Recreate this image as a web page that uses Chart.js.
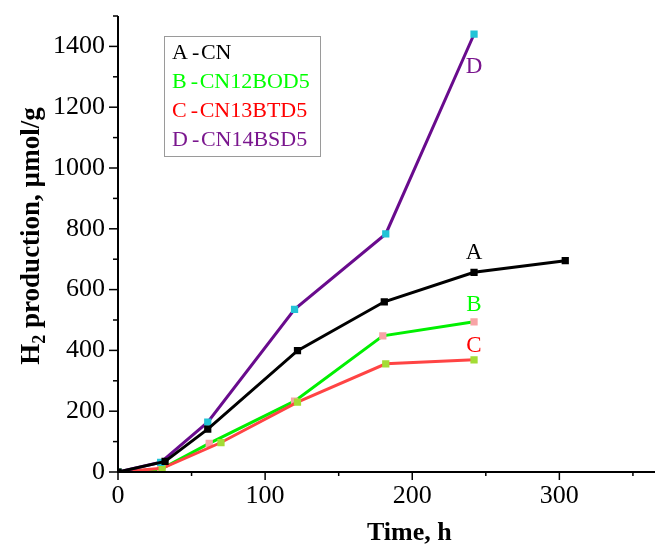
<!DOCTYPE html>
<html>
<head>
<meta charset="utf-8">
<script src="https://cdn.jsdelivr.net/npm/chart.js@4"></script>
<style>
  html, body { margin: 0; padding: 0; background: #ffffff; }
  #wrap { width: 662px; height: 547px; position: relative; }
</style>
</head>
<body>
<div id="wrap"><canvas id="h2-chart" width="662" height="547"></canvas></div>
<script>
// Data (time in h, H2 in umol/g)
const timeA = [0, 32, 61, 122, 181, 242, 304];
const prodA = [0, 35, 141, 399, 560, 657, 695];
const timeB = [0, 29, 62, 120, 180, 242];
const prodB = [0, 9, 94, 233, 448, 494];
const timeC = [0, 30, 70, 122, 182, 242];
const prodC = [0, 12, 97, 230, 356, 369];
const timeD = [0, 29, 61, 120, 182, 242];
const prodD = [0, 32, 164, 535, 783, 1440];

const seriesNames = ['A - CN', 'B - CN12BOD5', 'C - CN13BTD5', 'D - CN14BSD5'];
const letters = ['A', 'B', 'C', 'D'];
const xTickLabels = [0, 100, 200, 300];
const yTickLabels = [0, 200, 400, 600, 800, 1000, 1200, 1400];

const serif = '"Liberation Serif", "Times New Roman", serif';

function toPoints(xs, ys) {
  return xs.map((x, i) => ({ x: x, y: ys[i] }));
}

// Custom drawing: Origin style ticks, axis titles, legend box and curve letters
const originStyle = {
  id: 'originStyle',
  afterDraw(chart) {
    const ctx = chart.ctx;
    const xs = chart.scales.x;
    const ys = chart.scales.y;
    const area = chart.chartArea;
    ctx.save();

    // axis lines
    ctx.strokeStyle = '#000';
    ctx.lineWidth = 2;
    ctx.beginPath();
    ctx.moveTo(area.left, area.top);
    ctx.lineTo(area.left, area.bottom);
    ctx.lineTo(area.right, area.bottom);
    ctx.stroke();

    // ticks
    ctx.lineWidth = 1.5;
    for (let v = 0; v <= 350; v += 50) {
      const px = xs.getPixelForValue(v);
      const len = v % 100 === 0 ? 8 : 4;
      ctx.beginPath();
      ctx.moveTo(px, area.bottom);
      ctx.lineTo(px, area.bottom + len);
      ctx.stroke();
    }
    for (let v = 0; v <= 1500; v += 100) {
      const py = ys.getPixelForValue(v);
      const len = v % 200 === 0 ? 9 : 5;
      ctx.beginPath();
      ctx.moveTo(area.left, py);
      ctx.lineTo(area.left - len, py);
      ctx.stroke();
    }

    // tick labels
    ctx.fillStyle = '#000';
    ctx.font = '26px ' + serif;
    ctx.textAlign = 'center';
    ctx.textBaseline = 'top';
    xTickLabels.forEach(v => {
      ctx.fillText(String(v), xs.getPixelForValue(v), area.bottom + 11);
    });
    ctx.textAlign = 'right';
    ctx.textBaseline = 'middle';
    yTickLabels.forEach(v => {
      ctx.fillText(String(v), area.left - 13, ys.getPixelForValue(v));
    });

    // x title
    ctx.font = 'bold 26px ' + serif;
    ctx.textAlign = 'center';
    ctx.textBaseline = 'middle';
    ctx.fillText('Time, h', xs.getPixelForValue(198), 533);

    // y title with subscript
    ctx.save();
    ctx.translate(30, 236);
    ctx.rotate(-Math.PI / 2);
    const big = 'bold 27px ' + serif;
    const small = 'bold 18px ' + serif;
    const p1 = 'H';
    const p2 = '2';
    const p3 = ' production, \u00b5mol/g';
    ctx.font = big;
    const w1 = ctx.measureText(p1).width;
    const w3 = ctx.measureText(p3).width;
    ctx.font = small;
    const w2 = ctx.measureText(p2).width;
    let start = -(w1 + w2 + w3) / 2;
    ctx.textAlign = 'left';
    ctx.textBaseline = 'alphabetic';
    ctx.font = big;
    ctx.fillText(p1, start, 9);
    ctx.font = small;
    ctx.fillText(p2, start + w1, 15);
    ctx.font = big;
    ctx.fillText(p3, start + w1 + w2, 9);
    ctx.restore();

    // legend box
    ctx.strokeStyle = '#9a9a9a';
    ctx.lineWidth = 1;
    ctx.strokeRect(164.5, 36.5, 156, 120);
    ctx.font = '22px ' + serif;
    ctx.textAlign = 'left';
    ctx.textBaseline = 'middle';
    const legendColors = ['#000000', '#00ff00', '#ff0000', '#7a168e'];
    seriesNames.forEach((name, i) => {
      const parts = name.split(' - ');
      const yy = 53 + i * 29;
      ctx.fillStyle = legendColors[i];
      ctx.fillText(parts[0], 172, yy);
      const wl = ctx.measureText(parts[0]).width;
      ctx.fillText('-', 172 + wl + 4, yy);
      ctx.fillText(parts[1], 172 + wl + 13, yy);
    });

    // curve letters next to the last-but-one points
    const anchors = [
      { x: timeA[5], y: prodA[5], dy: -19, c: '#000000' },
      { x: timeB[5], y: prodB[5], dy: -17, c: '#00ff00' },
      { x: timeC[5], y: prodC[5], dy: -14, c: '#ff0000' },
      { x: timeD[5], y: prodD[5], dy: 33, c: '#7a168e' }
    ];
    ctx.font = '23px ' + serif;
    ctx.textAlign = 'center';
    anchors.forEach((a, i) => {
      ctx.fillStyle = a.c;
      ctx.fillText(letters[i], xs.getPixelForValue(a.x), ys.getPixelForValue(a.y) + a.dy);
    });

    ctx.restore();
  }
};

const ctx = document.getElementById('h2-chart').getContext('2d');
new Chart(ctx, {
  type: 'line',
  data: {
    datasets: [
      {
        label: seriesNames[0],
        data: toPoints(timeA, prodA),
        borderColor: '#000000',
        backgroundColor: '#000000',
        pointBorderColor: '#000000',
        borderWidth: 3
      },
      {
        label: seriesNames[3],
        data: toPoints(timeD, prodD),
        borderColor: '#690b8d',
        backgroundColor: '#22c3d6',
        pointBorderColor: '#22c3d6',
        borderWidth: 3
      },
      {
        label: seriesNames[2],
        data: toPoints(timeC, prodC),
        borderColor: '#ff4444',
        backgroundColor: '#a3dc35',
        pointBorderColor: '#a3dc35',
        borderWidth: 3
      },
      {
        label: seriesNames[1],
        data: toPoints(timeB, prodB),
        borderColor: '#00f000',
        backgroundColor: '#f8a3a6',
        pointBorderColor: '#f8a3a6',
        borderWidth: 3
      }
    ]
  },
  options: {
    responsive: false,
    animation: false,
    devicePixelRatio: 1,
    layout: { padding: { top: 16, right: 0, left: 0, bottom: 0 } },
    elements: {
      line: { tension: 0 },
      point: { pointStyle: 'rect', radius: 3, borderWidth: 0 }
    },
    plugins: {
      legend: { display: false },
      tooltip: { enabled: false }
    },
    scales: {
      x: {
        type: 'linear',
        min: 0,
        max: 365,
        grid: { display: false },
        border: { display: false },
        ticks: { display: false, stepSize: 50, includeBounds: false },
        afterFit(scale) { scale.height = 75; }
      },
      y: {
        type: 'linear',
        min: 0,
        max: 1500,
        grid: { display: false },
        border: { display: false },
        ticks: { display: false, stepSize: 100, includeBounds: false },
        afterFit(scale) { scale.width = 118; }
      }
    }
  },
  plugins: [originStyle]
});
</script>
</body>
</html>
